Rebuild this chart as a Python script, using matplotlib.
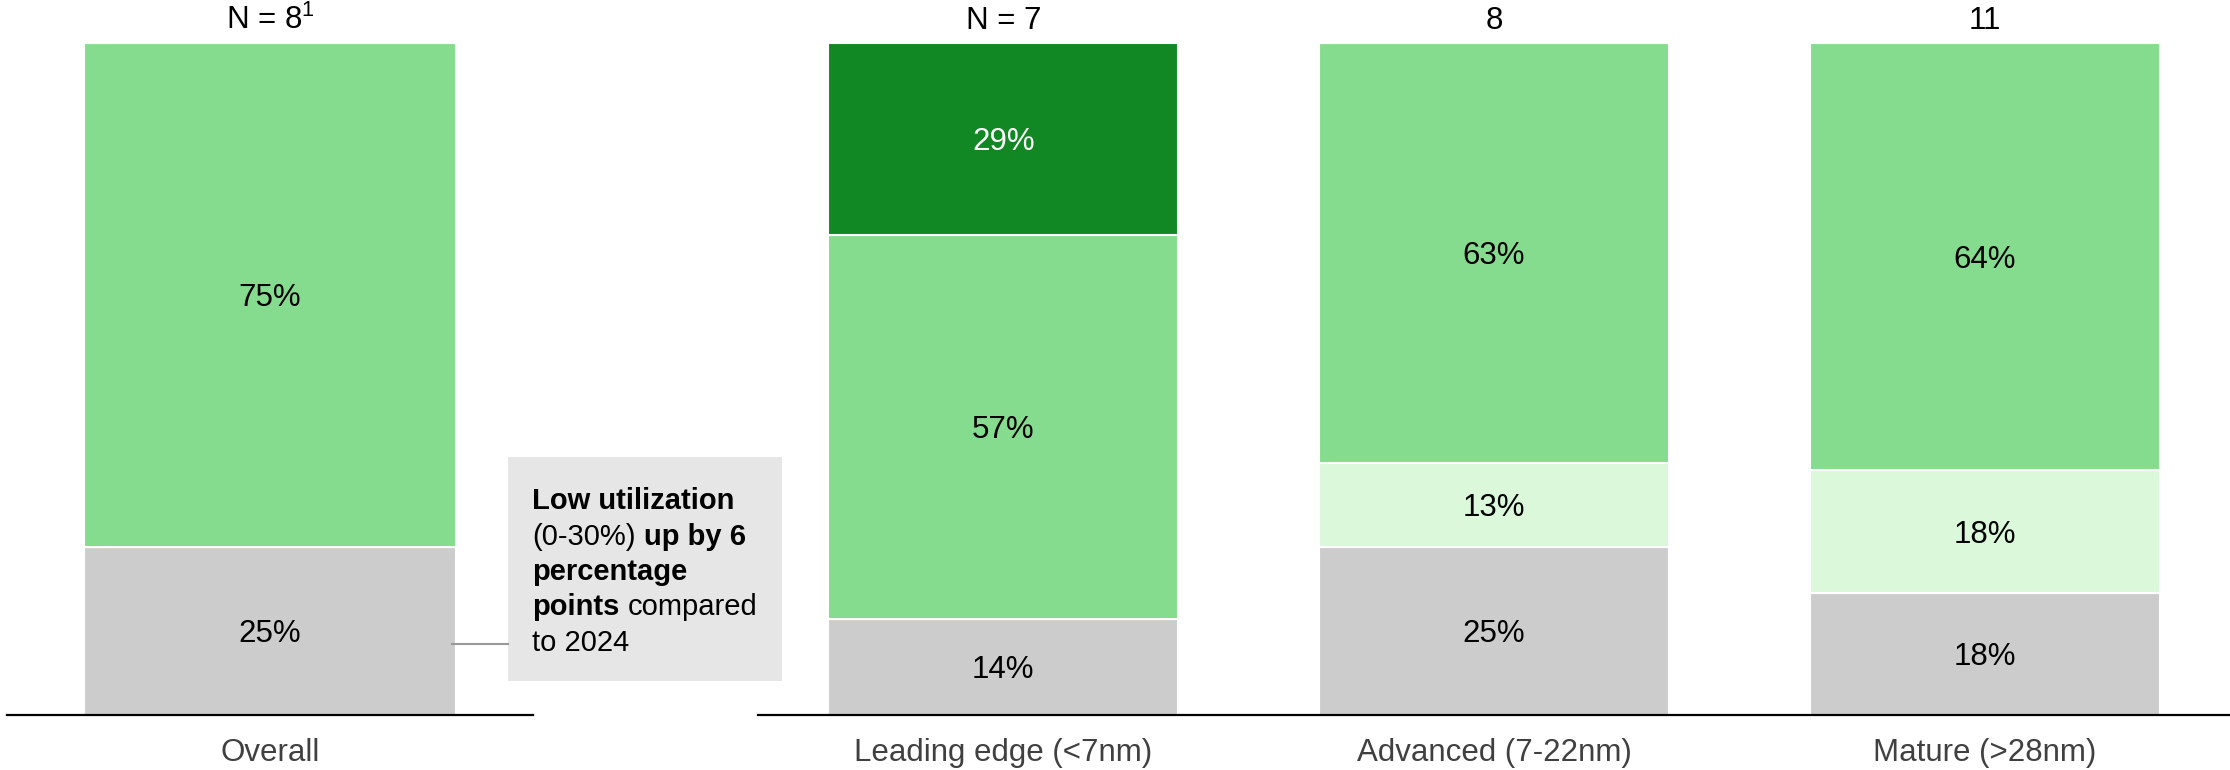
import matplotlib
matplotlib.use('Agg')
import matplotlib.pyplot as plt
from matplotlib.transforms import blended_transform_factory, ScaledTranslation

plt.rcParams['font.family'] = ['Liberation Sans', 'DejaVu Sans']
plt.rcParams['mathtext.fontset'] = 'custom'
plt.rcParams['mathtext.rm'] = 'Liberation Sans'
plt.rcParams['mathtext.it'] = 'Liberation Sans'
plt.rcParams['mathtext.bf'] = 'Liberation Sans:bold'

# ---------------- data ----------------
overall_categories = ["Overall"]
overall_n = ["N = 8$^{1}$"]
overall_low = [25.0]
overall_pale = [0.0]
overall_mid = [75.0]
overall_high = [0.0]

node_categories = ["Leading edge (<7nm)", "Advanced (7-22nm)", "Mature (>28nm)"]
node_n = ["N = 7", "8", "11"]
node_low = [14.3, 25.0, 18.2]
node_pale = [0.0, 12.5, 18.2]
node_mid = [57.1, 62.5, 63.6]
node_high = [28.6, 0.0, 0.0]

# ---------------- style ----------------
W, H = 2230, 770
YTOP, YBOT = 43, 715
C_LOW = '#CCCCCC'
C_PALE = '#DBF8DB'
C_MID = '#86DC8E'
C_HIGH = '#118823'
FS = 22.5
CAP_HALF = 0.716 * FS * 100 / 72 / 2  # half cap height in px

fig = plt.figure(figsize=(W / 100, H / 100), dpi=100)


def px_axes(x0, x1):
    return fig.add_axes([x0 / W, (H - YBOT) / H, (x1 - x0) / W, (YBOT - YTOP) / H])


def draw_panel(ax, cats, ns, series, width, xlim):
    x = list(range(len(cats)))
    bottoms = [0.0] * len(cats)
    colors = [C_LOW, C_PALE, C_MID, C_HIGH]
    tcolors = ['black', 'black', 'black', 'white']
    label_tr = ax.transData + ScaledTranslation(0, -CAP_HALF / 100, fig.dpi_scale_trans)
    for vals, col, tcol in zip(series, colors, tcolors):
        ax.bar(x, vals, width=width, bottom=bottoms, color=col,
               edgecolor='white', linewidth=1.5, zorder=2)
        for xi, v, b in zip(x, vals, bottoms):
            if v > 0:
                ax.text(xi, b + v / 2, f"{int(v + 0.5)}%", ha='center',
                        va='baseline', fontsize=FS, color=tcol, zorder=3,
                        transform=label_tr)
        bottoms = [b + v for b, v in zip(bottoms, vals)]
    ax.set_xlim(*xlim)
    ax.set_ylim(0, 100)
    for s in ['top', 'right', 'left']:
        ax.spines[s].set_visible(False)
    ax.spines['bottom'].set_linewidth(1.6)
    ax.spines['bottom'].set_color('black')
    ax.spines['bottom'].set_zorder(5)
    ax.set_xticks([])
    ax.set_yticks([])
    tr = blended_transform_factory(ax.transData, ax.transAxes)
    span = YBOT - YTOP
    for xi, c, n in zip(x, cats, ns):
        ax.text(xi, (YBOT - 761) / span, c, transform=tr, ha='center',
                va='baseline', fontsize=FS, color='#404040')
        ax.text(xi, (YBOT - 29) / span, n, transform=tr, ha='center',
                va='baseline', fontsize=FS, color='black')


ax1 = px_axes(7, 533)
draw_panel(ax1, overall_categories, overall_n,
           [overall_low, overall_pale, overall_mid, overall_high],
           0.707, (-0.5, 0.5))

ax2 = px_axes(758, 2230)
draw_panel(ax2, node_categories, node_n,
           [node_low, node_pale, node_mid, node_high],
           0.713, (-0.5, 2.5))

# ---------------- annotation box ----------------
bx0, bx1, by0, by1 = 508, 782, 457, 681
fig.patches.append(plt.Rectangle((bx0 / W, 1 - by1 / H), (bx1 - bx0) / W,
                                 (by1 - by0) / H, transform=fig.transFigure,
                                 facecolor='#E6E6E6', edgecolor='none', zorder=1))
fig.lines.append(plt.Line2D([452 / W, bx0 / W], [1 - 644 / H, 1 - 644 / H],
                            transform=fig.transFigure, color='#999999', lw=1.5))

lines = [
    [("Low utilization", 'bold')],
    [("(0-30%)", 'normal'), (" ", None), ("up by 6", 'bold')],
    [("percentage", 'bold')],
    [("points", 'bold'), (" ", None), ("compared", 'normal')],
    [("to 2024", 'normal')],
]
baselines = [509, 545, 580, 615, 651]
AFS = 21
renderer = fig.canvas.get_renderer()
space_px = 0.278 * AFS * 100 / 72
for segs, yb in zip(lines, baselines):
    xp = 532
    for s, w in segs:
        if w is None:
            xp += space_px
            continue
        t = fig.text(xp / W, 1 - yb / H, s, ha='left', va='baseline',
                     fontsize=AFS, fontweight=w, color='black', zorder=3)
        xp += t.get_window_extent(renderer).width

fig.savefig('out.png', dpi=100)
